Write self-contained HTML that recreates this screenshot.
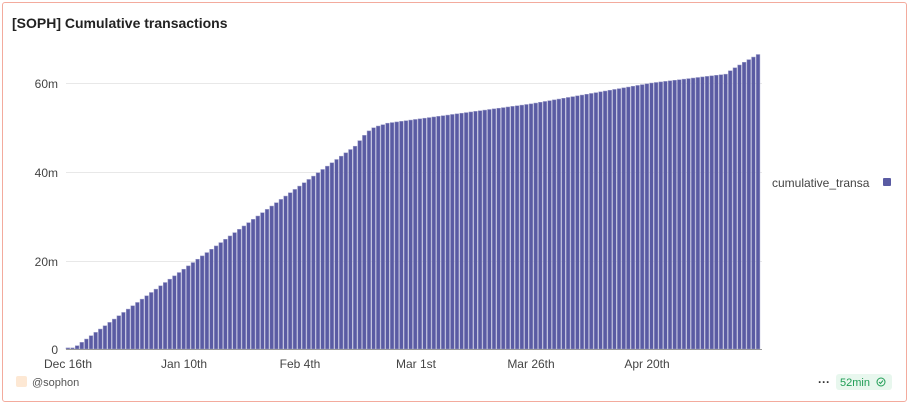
<!DOCTYPE html>
<html><head><style>
body{margin:0;background:#fff;font-family:"Liberation Sans",sans-serif;}
.card{position:absolute;left:2px;top:2px;width:903px;height:398px;border:1px solid #f3ab9d;border-radius:3px;}
</style></head><body>
<div class="card"></div>
<svg width="909" height="406" style="position:absolute;left:0;top:0" font-family="Liberation Sans, sans-serif">
<text x="12" y="28" font-size="14" font-weight="bold" fill="#222">[SOPH] Cumulative transactions</text>
<g stroke="#e8e8e8" stroke-width="1">
<line x1="66" x2="762" y1="83.5" y2="83.5"/>
<line x1="66" x2="762" y1="172.5" y2="172.5"/>
<line x1="66" x2="762" y1="261.5" y2="261.5"/>
</g>
<g font-size="12" fill="#444" text-anchor="end">
<text x="58" y="88">60m</text><text x="58" y="177">40m</text><text x="58" y="266">20m</text><text x="58" y="354">0</text>
</g>
<g id="bars"></g>
<line x1="66" x2="762" y1="349.5" y2="349.5" stroke="#999"/>
<g font-size="12" fill="#444" text-anchor="middle">
<text x="68" y="368">Dec 16th</text><text x="184" y="368">Jan 10th</text><text x="300" y="368">Feb 4th</text><text x="416" y="368">Mar 1st</text><text x="531" y="368">Mar 26th</text><text x="647" y="368">Apr 20th</text>
</g>
<text x="772" y="187" font-size="12" fill="#444">cumulative_transa</text>
<rect x="883" y="178" width="8" height="8" rx="1" fill="#5a5ba3"/>
<rect x="16" y="376" width="11" height="11" rx="2" fill="#fde8d4"/>
<text x="32" y="386" font-size="11" fill="#555">@sophon</text>
<text x="818" y="386" font-size="12" fill="#333" font-weight="bold">···</text>
<rect x="836" y="374" width="56" height="16" rx="3" fill="#e8f7ee"/>
<text x="840" y="386" font-size="11" fill="#1f9d55">52min</text>
<circle cx="881" cy="382" r="4" fill="none" stroke="#1f9d55" stroke-width="1"/>
<path d="M879 382 l1.5 1.5 l2.5 -3" fill="none" stroke="#1f9d55" stroke-width="1"/>
</svg>
<script>
function val(d){
 if(d<2) return 0.25;
 if(d<=62) return 0.75*(d-1);
 var tail=[47,48.2,49.2,49.9,50.3,50.6];
 if(d<=68) return tail[d-63]||50.8;
 if(d<=100) return 50.8+(d-68)*(55.3-50.8)/32;
 if(d<=126) return 55.3+(d-100)*(60-55.3)/26;
 if(d<=142) return 60+(d-126)*2/16;
 var t=(d-142)/8; return 62+5*Math.pow(t,0.9);
}
var g=document.getElementById('bars'),s='';
var px=4.632;
for(var d=0;d<=149;d++){
 var v=val(d),h=v*4.433,x=66+d*px;
 s+='<rect x="'+x.toFixed(2)+'" y="'+(349-h).toFixed(2)+'" width="'+(px-0.9).toFixed(2)+'" height="'+h.toFixed(2)+'" fill="#5a5ba3" stroke="#9b9cc9" stroke-width="0.5"/>';
}
g.innerHTML=s;
</script>
</body></html>
